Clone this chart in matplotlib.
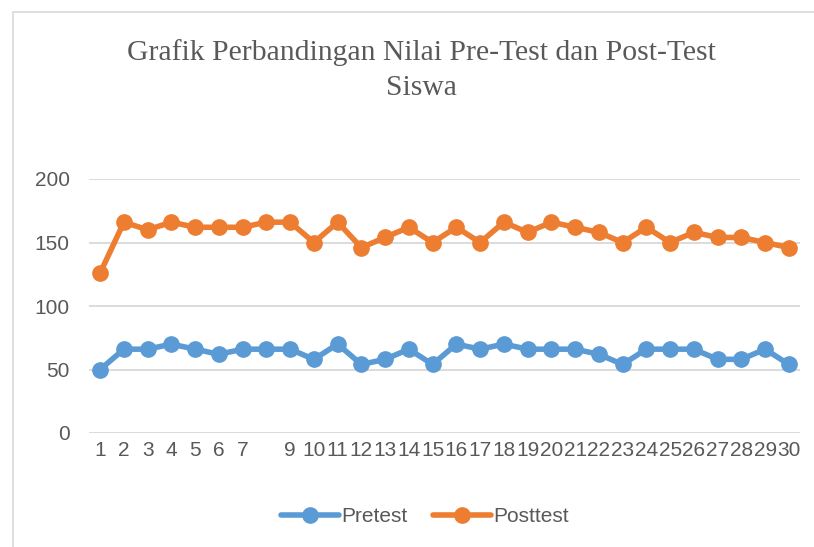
import matplotlib
matplotlib.use("Agg")
import matplotlib.pyplot as plt
from matplotlib.patches import Rectangle

students = list(range(1, 31))
tick_labels = [str(i) if i != 8 else "" for i in students]
pretest = [50, 66, 66, 70, 66, 62, 66, 66, 66, 58, 70, 54, 58, 66, 54,
           70, 66, 70, 66, 66, 66, 62, 54, 66, 66, 66, 58, 58, 66, 54]
posttest = [126, 166, 160, 166, 162, 162, 162, 166, 166, 150, 166, 146, 154, 162, 150,
            162, 150, 166, 158, 166, 162, 158, 150, 162, 150, 158, 154, 154, 150, 146]

W, H = 814, 547
fig = plt.figure(figsize=(W / 100, H / 100), dpi=100)
fig.patch.set_facecolor("white")

# chart border (only top/left visible in the crop)
fig.add_artist(Rectangle((13 / W, -0.1), 1.2, (H - 12) / H + 0.1, transform=fig.transFigure,
                         fill=False, edgecolor="#D9D9D9", linewidth=1.2))

ax = fig.add_axes([89 / W, (H - 433) / H, (800 - 89) / W, (433 - 179) / H])
blue = "#5B9BD5"
orange = "#ED7D31"
ax.plot(students, pretest, color=blue, linewidth=4, marker="o", markersize=11,
        label="Pretest", solid_capstyle="round", zorder=3)
ax.plot(students, posttest, color=orange, linewidth=4, marker="o", markersize=11,
        label="Posttest", solid_capstyle="round", zorder=3)

ax.set_xlim(0.53, 30.47)
ax.set_ylim(0, 200)
ax.set_yticks([0, 50, 100, 150, 200])
ax.set_xticks(students)
ax.set_xticklabels(tick_labels)
for s in ax.spines.values():
    s.set_visible(False)
ax.grid(axis="y", color="#D9D9D9", linewidth=1.3, zorder=0)
ax.set_axisbelow(True)
ax.tick_params(length=0, labelsize=15, labelcolor="#595959")
ax.tick_params(axis="y", pad=14)
ax.tick_params(axis="x", pad=6)
for lab in ax.get_xticklabels() + ax.get_yticklabels():
    lab.set_fontfamily("Liberation Sans")

fig.text(421 / W, 1 - 53 / H, "Grafik Perbandingan Nilai Pre-Test dan Post-Test",
         ha="center", va="center", fontsize=21.3, color="#595959", family="Liberation Serif")
fig.text(421 / W, 1 - 88 / H, "Siswa",
         ha="center", va="center", fontsize=21.3, color="#595959", family="Liberation Serif")

leg = fig.legend(loc="center", bbox_to_anchor=(425 / W, 1 - 517 / H), ncol=2, frameon=False,
                 prop={"family": "Liberation Sans", "size": 15}, handlelength=2.8,
                 columnspacing=1.2, handletextpad=0.1)
for t in leg.get_texts():
    t.set_color("#595959")

fig.savefig("out.png", dpi=100, facecolor="white")
